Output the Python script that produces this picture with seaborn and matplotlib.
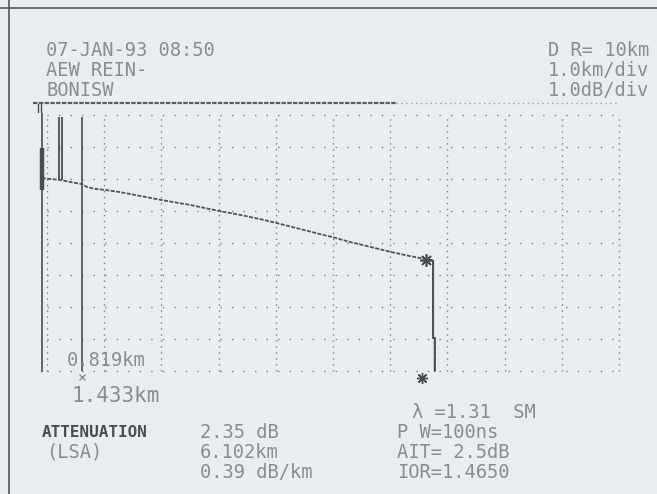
import matplotlib
matplotlib.use("Agg")
import matplotlib.pyplot as plt
import numpy as np
import pandas as pd
import seaborn as sns

# trace: distance (km) / relative level (dB, 1 dB/div)
trace_km = [-0.09, 0.05, 0.23, 0.40, 0.61, 0.70, 0.84, 1.01, 1.28, 1.63, 2.01,
            2.50, 3.01, 3.37, 3.72, 4.00, 4.42, 4.77, 4.98, 5.30, 5.65, 6.01,
            6.35, 6.52, 6.70, 6.75, 6.75, 6.78, 6.78]
trace_db = [6.03, 6.00, 5.97, 5.91, 5.84, 5.75, 5.69, 5.66, 5.59, 5.47, 5.34,
            5.19, 5.00, 4.88, 4.75, 4.63, 4.44, 4.28, 4.19, 4.03, 3.88, 3.72,
            3.59, 3.53, 3.47, 3.44, 1.03, 1.03, 0.00]

grid_km = list(range(0, 11))
grid_db = list(range(0, 9))

# vertical markers: (km, dB from, dB to, width)
markers_km = [-0.09, -0.09, 0.21, 0.26, 0.61]
markers_lo = [-0.03, 5.66, 5.97, 5.97, 0.0]
markers_hi = [8.06, 6.97, 7.94, 7.94, 7.94]
markers_lw = [1.2, 3.2, 1.3, 1.3, 1.2]

event_km = 6.62
event_db = 3.47

header_left = ["07-JAN-93 08:50", "AEW REIN-", "BONISW"]
header_right = ["D R= 10km", "1.0km/div", "1.0dB/div"]
result_label = ["ATTENUATION", "(LSA)"]
result_values = ["2.35 dB", "6.102km", "0.39 dB/km"]
settings = ["\u03bb =1.31  SM", "P W=100ns", "AIT= 2.5dB", "IOR=1.4650"]
cursor_a = "0.819km"
cursor_b = "1.433km"

W, H = 657, 494
BG = "#e9edf0"
INK = "#8a8d90"
DARK = "#4a4c4e"

sns.set_theme(style="white")
plt.rcParams["font.family"] = ["DejaVu Sans Mono", "DejaVu Sans"]

fig = plt.figure(figsize=(W / 100, H / 100), dpi=100, facecolor=BG)
ax = fig.add_axes([0, 0, 1, 1], facecolor=BG)
# pixel layout: 0 km at x=47, 57.2 px/km; 0 dB at y=371, 32 px/dB
ax.set_xlim((0 - 47) / 57.2, (W - 47) / 57.2)
ax.set_ylim((371 - H) / 32, 371 / 32)
ax.axis("off")

def px(x, y):
    return x / W, 1 - y / H

# page border
ax.axhline((371 - 8) / 32, color="#555", lw=1.2)
ax.axvline((9 - 47) / 57.2, color="#555", lw=1.2)

# dotted grid
for k in grid_km:
    ax.plot([k, k], [0, 8], color="#7c7f82", lw=1.0, ls=(0, (1, 3.3)))
for d in grid_db:
    ax.plot([0, 10], [d, d], color="#7c7f82", lw=1.0, ls=(0, (1, 7.3)))

# header rule along the top
ax.plot([-0.25, 6.1], [8.375, 8.375], color="#5a5c5e", lw=1.6, ls=(0, (2, 0.6)))
ax.plot([6.1, 10.0], [8.375, 8.375], color="#9a9da0", lw=1.0, ls=(0, (1, 2.5)))
ax.plot([-0.16, -0.16], [8.08, 8.33], color=DARK, lw=1.0)
ax.plot([-0.11, -0.11], [8.08, 8.33], color=DARK, lw=1.0)

# cursor / reflection lines
for k, lo, hi, lw in zip(markers_km, markers_lo, markers_hi, markers_lw):
    ax.plot([k, k], [lo, hi], color=DARK, lw=lw, solid_capstyle="butt")

df = pd.DataFrame({"km": trace_km, "db": trace_db, "seg": np.arange(len(trace_km))})
sns.lineplot(data=df, x="km", y="db", sort=False, estimator=None, ax=ax,
             color="#505254", lw=1.3, legend=False)
ax.lines[-1].set_linestyle((0, (2.2, 0.8)))
# the drop after the far end is drawn solid
ax.plot(trace_km[-5:], trace_db[-5:], color=DARK, lw=1.4)

ax.plot([event_km], [event_db], marker=(8, 2, 0), ms=9, color=DARK, mew=1.2)
ax.plot([event_km - 0.07], [(371 - 378) / 32], marker=(8, 2, 0), ms=8,
        color=DARK, mew=1.0)
ax.plot([0.61], [(371 - 377) / 32], marker="x", ms=5, color=INK, mew=1.0)

fs = 13.5
for i, s in enumerate(header_left):
    fig.text(*px(46, 50 + 20 * i), s, fontsize=fs, color=INK, va="center")
for i, s in enumerate(header_right):
    fig.text(*px(649, 50 + 20 * i), s, fontsize=fs, color=INK, va="center",
             ha="right")

fig.text(*px(67, 361), cursor_a, fontsize=fs, color=INK, va="center")
fig.text(*px(72, 396), cursor_b, fontsize=fs + 1.5, color=INK, va="center")

fig.text(*px(42, 432), result_label[0], fontsize=11.5, color=DARK, va="center",
         weight="bold")
fig.text(*px(46, 452), result_label[1], fontsize=fs, color=INK, va="center")
for i, s in enumerate(result_values):
    fig.text(*px(200, 432 + 20 * i), s, fontsize=fs, color=INK, va="center")
fig.text(*px(412, 412), settings[0], fontsize=fs, color=INK, va="center")
for i, s in enumerate(settings[1:]):
    fig.text(*px(397, 432 + 20 * i), s, fontsize=fs, color=INK, va="center")

fig.savefig("out.png", dpi=100, facecolor=BG)
